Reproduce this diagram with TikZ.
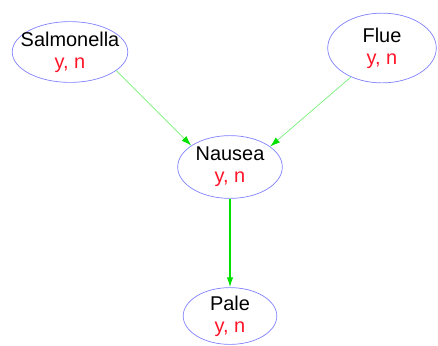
\documentclass[tikz,border=0pt]{standalone}
\usepackage{fontspec}
\setmainfont{Liberation Sans}
\usepackage{xcolor}
\usetikzlibrary{shapes.geometric,arrows.meta}
\definecolor{nodeblue}{RGB}{128,128,255}
\definecolor{edgelight}{RGB}{120,240,120}
\definecolor{edgegreen}{RGB}{0,225,0}
\definecolor{valred}{RGB}{255,20,40}

\begin{document}
\begin{tikzpicture}[x=1bp, y=-1bp,
	bn_node/.style={ellipse,draw=nodeblue,line width=0.7pt,inner xsep=-20pt,inner ysep=-14pt,align=center,font=\fontsize{20}{23}\selectfont},
	thin_edge/.style={draw=edgelight,line width=0.7pt,-{Latex[length=10pt,width=6.5pt,color=edgegreen]}},
	thick_edge/.style={draw=edgegreen,line width=1.1pt,-{Latex[length=10pt,width=6.5pt]}}]
				
				\useasboundingbox (0,0) rectangle (438,345);
				
				\node[bn_node, minimum width=116, minimum height=61] (1) at (70, 52) {Salmonella\\[-1pt]\textcolor{valred}{y, n}};
				\node[bn_node, minimum width=109, minimum height=70] (2) at (382, 48) {Flue\\[-1pt]\textcolor{valred}{y, n}};
				\node[bn_node, minimum width=105, minimum height=63] (3) at (230, 167) {Nausea\\[-1pt]\textcolor{valred}{y, n}};
				\node[bn_node, minimum width=94, minimum height=57] (4) at (230, 316) {Pale\\[-1pt]\textcolor{valred}{y, n}};
				
				\path
				(1.-22)  edge[thin_edge]  (3.151)
				(2.223)  edge[thin_edge]  (3.27)
				(3.south) edge[thick_edge] (4.north);
			\end{tikzpicture}
\end{document}
